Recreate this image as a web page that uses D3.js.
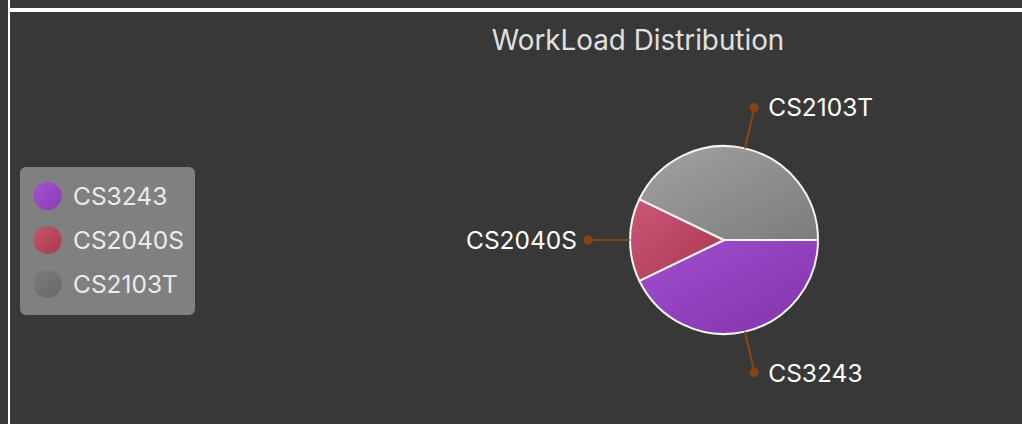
<!DOCTYPE html>
<html><head><meta charset="utf-8">
<script src="https://cdn.jsdelivr.net/npm/d3@7"></script>
<style>
html,body{margin:0;padding:0;background:#383838;overflow:hidden;}
svg{display:block;}
</style></head>
<body>
<svg id="chart" width="1022" height="424"></svg>
<script>
const categories = ["CS3243", "CS2040S", "CS2103T"];
const workload = [3, 1, 3];
const title = "WorkLoad Distribution";

const sliceColors = {
  CS3243: ["#9f50cc", "#8432ae"],
  CS2040S: ["#cc5877", "#aa3553"],
  CS2103T: ["#a2a2a2", "#7c7c7c"]
};
const legendColors = {
  CS3243: ["#a453d4", "#8a3bb3"],
  CS2040S: ["#c9546f", "#a8384f"],
  CS2103T: ["#7c7c7c", "#686868"]
};

const svg = d3.select("#chart");
const W = 1022, H = 424;
const font = "Inter, Roboto, 'DejaVu Sans', sans-serif";

svg.append("rect").attr("width", W).attr("height", H).attr("fill", "#383838");
// frame lines
svg.append("rect").attr("x", 8).attr("y", 0).attr("width", 2).attr("height", H).attr("fill", "#ffffff");
svg.append("rect").attr("x", 10).attr("y", 8).attr("width", W - 10).attr("height", 4).attr("fill", "#ffffff");

const defs = svg.append("defs");
function grad(id, c) {
  const g = defs.append("linearGradient").attr("id", id)
    .attr("x1", 0).attr("y1", 0).attr("x2", 1).attr("y2", 1);
  g.append("stop").attr("offset", "0%").attr("stop-color", c[0]);
  g.append("stop").attr("offset", "100%").attr("stop-color", c[1]);
}
categories.forEach((c, i) => {
  grad("sg" + i, sliceColors[c]);
  grad("lg" + i, legendColors[c]);
});

// title
svg.append("text").attr("x", 638).attr("y", 50)
  .attr("text-anchor", "middle").attr("font-family", font)
  .attr("font-size", 27.8).attr("fill", "#e0e0e0").text(title);

// pie
const cx = 724, cy = 240, r = 94, labelR = 136;
const data = categories.map((c, i) => ({ name: c, value: workload[i], i }));
const pie = d3.pie().value(d => d.value).sort(null)
  .startAngle(Math.PI / 2).endAngle(Math.PI / 2 + 2 * Math.PI);
const arcs = pie(data);
const arc = d3.arc().innerRadius(0).outerRadius(r);
const g = svg.append("g").attr("transform", `translate(${cx},${cy})`);

g.selectAll("path.slice").data(arcs).join("path")
  .attr("class", "slice")
  .attr("d", arc)
  .attr("fill", d => `url(#sg${d.data.i})`)
  .attr("stroke", "#f4f4f4").attr("stroke-width", 2)
  .attr("stroke-linejoin", "round");

const pt = (a, rad) => [Math.sin(a) * rad, -Math.cos(a) * rad];
arcs.forEach(d => {
  const a = (d.startAngle + d.endAngle) / 2;
  const p0 = pt(a, r), p1 = pt(a, labelR);
  g.append("line").attr("x1", p0[0]).attr("y1", p0[1]).attr("x2", p1[0]).attr("y2", p1[1])
    .attr("stroke", "#8b4513").attr("stroke-width", 2);
  g.append("circle").attr("cx", p1[0]).attr("cy", p1[1]).attr("r", 4.5).attr("fill", "#8b4513");
  const right = Math.sin(a) >= 0;
  g.append("text")
    .attr("x", p1[0] + (right ? 14 : -11))
    .attr("y", p1[1] + 9)
    .attr("text-anchor", right ? "start" : "end")
    .attr("font-family", font).attr("font-size", 24.5)
    .attr("fill", "#ffffff").text(d.data.name);
});

// legend
const lg = svg.append("g");
lg.append("rect").attr("x", 20).attr("y", 167).attr("width", 175).attr("height", 148)
  .attr("rx", 6).attr("fill", "#808080");
const ly = d3.scalePoint().domain(categories).range([196, 284]);
categories.forEach((c, i) => {
  lg.append("circle").attr("cx", 47.5).attr("cy", ly(c)).attr("r", 14)
    .attr("fill", `url(#lg${i})`);
  lg.append("text").attr("x", 73).attr("y", ly(c) + 9)
    .attr("font-family", font).attr("font-size", 24.5)
    .attr("fill", "#ececec").text(c);
});
</script>
</body></html>
